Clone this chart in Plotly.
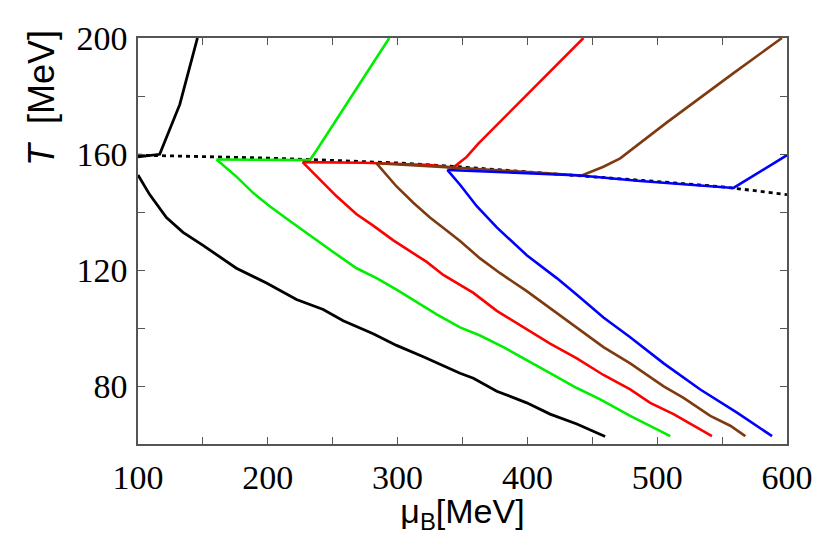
import plotly.graph_objects as go

# transition line (dotted)
mu_tc = [100, 150, 200, 250, 300, 350, 400, 450, 500, 550, 600]
t_tc = [159.6, 159.1, 158.6, 157.8, 156.9, 155.5, 153.9, 152.3, 150.5, 148.7, 146.0]

# black
mu_black_up = [100, 116.7, 132.2, 145.8]
t_black_up = [159.0, 159.9, 177.1, 200]
mu_black_lo = [100, 109, 121.9, 134.7, 150.1, 163.0, 175.8, 199.0, 222.1, 242.7, 258.1,
               281.2, 299.2, 319.8, 348.1, 358.4, 376.4, 399.5, 417.5, 438.1, 459.9]
t_black_lo = [152.8, 146.0, 138.1, 133.0, 128.5, 124.5, 120.6, 115.5, 109.8, 106.4, 102.5,
              98.0, 94.0, 90.1, 84.4, 82.7, 78.2, 74.2, 70.3, 66.9, 62.6]

# green
mu_green_up = [160.5, 232.4, 237.6, 293.6]
t_green_up = [158.1, 157.9, 161.3, 200]
mu_green_lo = [160.5, 175.8, 188.7, 201.5, 217.0, 232.4, 250.4, 268.4, 283.8, 299.2, 317.2,
               330.1, 348.1, 363.5, 381.5, 402.1, 417.5, 438.1, 456.1, 479.2, 494.6, 510.1]
t_green_lo = [158.1, 152.2, 146.6, 142.0, 136.9, 131.9, 126.2, 120.6, 117.2, 113.2, 108.1,
              104.7, 100.2, 97.4, 93.4, 88.4, 84.4, 79.3, 75.4, 69.7, 66.3, 62.7]

# red
mu_red_up = [226.8, 273.5, 325.0, 342.9, 353.2, 362.2, 443.2]
t_red_up = [157.2, 157.0, 156.2, 155.3, 159.0, 163.6, 200]
mu_red_lo = [226.8, 240.1, 253.0, 268.4, 281.2, 296.7, 312.1, 322.4, 335.2, 348.1, 358.4,
             376.4, 399.5, 417.5, 438.1, 458.6, 479.2, 494.6, 512.6, 528.0, 542.2]
t_red_lo = [157.2, 151.1, 145.4, 139.2, 135.3, 130.2, 125.6, 122.8, 118.3, 114.7, 112.1,
            105.9, 99.7, 94.6, 89.5, 83.8, 78.8, 74.2, 70.3, 66.3, 62.7]

# brown
mu_brown_up = [283.8, 340.4, 441.9, 458.6, 471.5, 507.5, 558.8, 596.1]
t_brown_up = [156.8, 155.4, 152.6, 155.6, 158.5, 170.9, 187.9, 200]
mu_brown_lo = [283.8, 299.2, 312.1, 324.9, 337.8, 348.1, 363.5, 379.0, 399.5, 420.1, 438.1,
               458.6, 479.2, 505.0, 520.3, 540.9, 556.3, 567.9]
t_brown_lo = [156.8, 148.8, 143.2, 138.1, 133.6, 130.0, 124.0, 118.9, 112.7, 105.9, 100.2,
              93.4, 87.8, 79.9, 75.9, 69.7, 66.3, 62.7]

# blue
mu_blue_up = [338.3, 384.1, 440.6, 486.9, 558.8, 600]
t_blue_up = [154.5, 153.6, 152.6, 150.7, 148.3, 159.6]
mu_blue_lo = [338.3, 348.1, 361.0, 376.4, 399.5, 422.6, 438.1, 458.6, 479.2, 505.0, 533.2,
              561.5, 588.5]
t_blue_lo = [154.5, 149.4, 142.0, 134.7, 125.1, 117.2, 111.5, 103.6, 96.8, 87.8, 78.8,
             70.8, 62.7]

x_ticks = [100, 200, 300, 400, 500, 600]
y_ticks = [80, 120, 160, 200]

curves = [
    ("black", 2.8, mu_black_up, t_black_up, mu_black_lo, t_black_lo),
    ("#00ee00", 2.6, mu_green_up, t_green_up, mu_green_lo, t_green_lo),
    ("#ff0000", 2.6, mu_red_up, t_red_up, mu_red_lo, t_red_lo),
    ("#7f3a10", 2.6, mu_brown_up, t_brown_up, mu_brown_lo, t_brown_lo),
    ("#0000ff", 2.6, mu_blue_up, t_blue_up, mu_blue_lo, t_blue_lo),
]

fig = go.Figure()

# dotted transition line
fig.add_trace(go.Scatter(x=mu_tc, y=t_tc, mode="lines",
                         line=dict(color="black", width=2.8, dash="4px,4px"),
                         showlegend=False))

for color, w, mx_up, ty_up, mx_lo, ty_lo in curves:
    fig.add_trace(go.Scatter(x=mx_up, y=ty_up, mode="lines",
                             line=dict(color=color, width=w), showlegend=False))
    fig.add_trace(go.Scatter(x=mx_lo, y=ty_lo, mode="lines",
                             line=dict(color=color, width=w), showlegend=False))

axis_common = dict(
    showgrid=False, zeroline=False,
    showline=True, linecolor="#555555", linewidth=1.5, mirror="ticks",
    ticks="inside", ticklen=7, tickwidth=1.2, tickcolor="#555555",
    tickfont=dict(family="Liberation Serif", size=34, color="black"),
)

fig.update_xaxes(
    range=[100, 600], tickvals=x_ticks,
    minor=dict(dtick=50, ticks="inside", ticklen=7, tickwidth=1.2, tickcolor="#555555"),
    ticklabelstandoff=2,
    title=dict(text="μ<sub>B</sub>[MeV]", standoff=4,
               font=dict(family="Liberation Sans", size=34, color="black")),
    **axis_common
)
fig.update_yaxes(
    range=[60, 200], tickvals=y_ticks,
    minor=dict(dtick=20, ticks="inside", ticklen=7, tickwidth=1.2, tickcolor="#555555"),
    ticklabelstandoff=2,
    **axis_common
)

# y title sits high on the left, not centred on the axis
fig.add_annotation(
    text="<i>T</i>&nbsp; [MeV]", textangle=-90,
    xref="paper", yref="paper", x=0, y=0.852,
    xanchor="center", yanchor="middle", xshift=-97, showarrow=False,
    font=dict(family="Liberation Sans", size=36, color="black"),
)

# page body adds an 8px offset, so size/margins are trimmed to match
fig.update_layout(
    width=822, height=527,
    margin=dict(l=130, r=43, t=25, b=90),
    plot_bgcolor="white", paper_bgcolor="white",
    showlegend=False,
)

fig.write_html("out.html")
